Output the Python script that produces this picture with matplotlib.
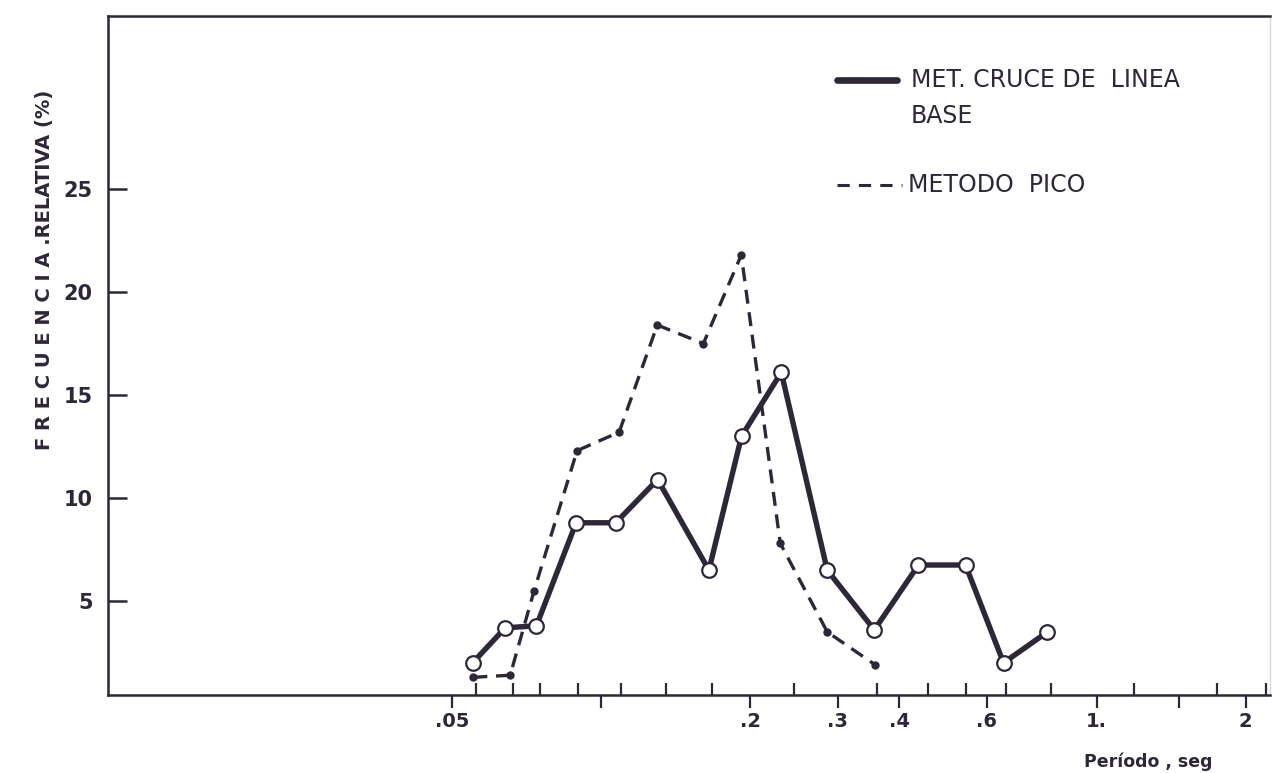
import matplotlib.pyplot as plt
from matplotlib.ticker import FixedLocator, FixedFormatter, NullFormatter

# Periodo (seg) y frecuencia relativa (%)
periodo_base = [0.055, 0.064, 0.074, 0.089, 0.107, 0.130, 0.165, 0.192,
                0.231, 0.286, 0.356, 0.437, 0.544, 0.649, 0.796]
frec_base = [2.0, 3.7, 3.8, 8.8, 8.8, 10.9, 6.5, 13.0,
             16.1, 6.5, 3.6, 6.75, 6.75, 2.0, 3.5]

periodo_pico = [0.0552, 0.0655, 0.0732, 0.0894, 0.1087, 0.1298, 0.1608,
                0.1918, 0.2299, 0.2861, 0.3577]
frec_pico = [1.3, 1.4, 5.5, 12.3, 13.2, 18.4, 17.5, 21.8, 7.8, 3.5, 1.9]

x_major = [0.05, 0.1, 0.2, 0.3, 0.4, 0.6, 1.0, 1.47, 2.0]
x_major_labels = ['.05', '', '.2', '.3', '.4', '.6', '1.', '', '2']
x_minor = [0.0559, 0.0664, 0.0753, 0.0899, 0.1098, 0.1353, 0.1676, 0.2454,
           0.361, 0.456, 0.544, 0.658, 0.808, 1.188, 1.754, 2.2]
y_ticks = [5, 10, 15, 20, 25]

ink = '#2e2737'
W, H = 1273, 773

plt.rcParams['font.family'] = ['DejaVu Sans']
fig = plt.figure(figsize=(W / 100, H / 100), dpi=100)
fig.patch.set_facecolor('white')

ax_l, ax_r, ax_t, ax_b = 108, 1270, 16, 695
ax = fig.add_axes([ax_l / W, (H - ax_b) / H, (ax_r - ax_l) / W, (ax_b - ax_t) / H])

ax.plot(periodo_pico, frec_pico, color=ink, lw=2.4, dashes=(4.2, 2.6),
        marker='o', ms=5, mfc=ink, mec=ink, zorder=2)
ax.plot(periodo_base, frec_base, '-', color=ink, lw=3.9, marker='o', ms=10.5,
        mfc='white', mec=ink, mew=1.6, zorder=3)

ax.set_xscale('log')
ax.set_xlim(0.0101, 2.24)
ax.set_ylim(0.44, 33.4)

ax.xaxis.set_major_locator(FixedLocator(x_major))
ax.xaxis.set_major_formatter(FixedFormatter(x_major_labels))
ax.xaxis.set_minor_locator(FixedLocator(x_minor))
ax.xaxis.set_minor_formatter(NullFormatter())
ax.set_yticks(y_ticks)
ax.set_yticklabels([str(v) for v in y_ticks])

ax.tick_params(axis='y', which='major', direction='in', length=14, width=1.8,
               pad=11, labelsize=15, colors=ink)
ax.tick_params(axis='x', which='major', direction='out', length=9, width=1.6,
               pad=3, labelsize=14, colors=ink)
ax.tick_params(axis='x', which='minor', direction='in', length=8.5, width=1.6,
               colors=ink)
for lab in ax.get_xticklabels() + ax.get_yticklabels():
    lab.set_fontweight('bold')

for side in ['left', 'top', 'bottom']:
    ax.spines[side].set_color(ink)
    ax.spines[side].set_linewidth(1.8)
ax.spines['right'].set_color('#d8d8d8')
ax.spines['right'].set_linewidth(1.0)


def fx(px):
    return (px - ax_l) / (ax_r - ax_l)


def fy(py):
    return (ax_b - py) / (ax_b - ax_t)


# leyenda dibujada a mano
ax.plot([fx(837), fx(897)], [fy(80), fy(80)], color=ink, lw=4.8,
        solid_capstyle='round', transform=ax.transAxes, clip_on=False)
ax.text(fx(911), fy(80), 'MET. CRUCE DE  LINEA', transform=ax.transAxes,
        ha='left', va='center', fontsize=17, color=ink)
ax.text(fx(911), fy(116), 'BASE', transform=ax.transAxes,
        ha='left', va='center', fontsize=17, color=ink)
ax.plot([fx(837), fx(902)], [fy(185), fy(185)], color=ink, lw=2.2,
        dashes=(4, 3), transform=ax.transAxes, clip_on=False)
ax.text(fx(908), fy(185), 'METODO  PICO', transform=ax.transAxes,
        ha='left', va='center', fontsize=17, color=ink)

fig.text(45 / W, 1 - 270 / H, 'F R E C U E N C I A .RELATIVA (%)', rotation=90,
         ha='center', va='center', fontsize=14, fontweight='bold', color=ink)
fig.text(1148 / W, 1 - 762 / H, 'Período , seg', ha='center', va='center',
         fontsize=12.5, fontweight='bold', color=ink)

fig.savefig('out.png', dpi=100, facecolor='white')
